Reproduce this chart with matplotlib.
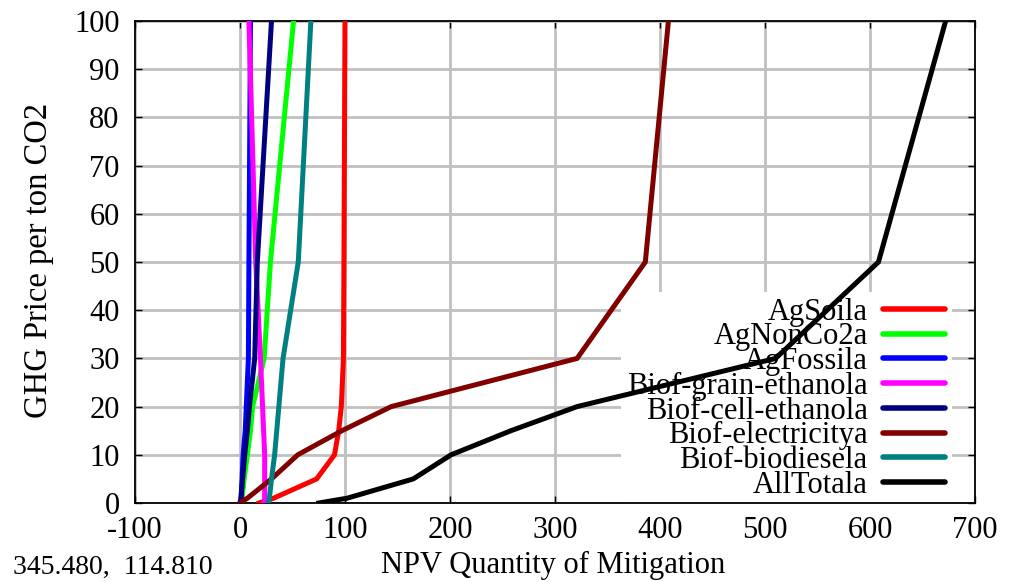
import matplotlib
matplotlib.use("Agg")
import matplotlib.pyplot as plt

# GHG price levels (y) and NPV mitigation quantity per sector (x)
prices = [0, 1, 5, 10, 15, 20, 30, 50, 100]

ag_soil = [18, 32, 73, 90, 94, 96.5, 98.5, 99, 100]
ag_nonco2 = [1, 2, 4, 7, 10, 12, 23, 29, 51]
ag_fossil = [0, 1, 2, 3, 5, 6, 8, 8.5, 10]
biof_grain = [23, 23.5, 23.5, 23.5, 22.5, 21.5, 19.5, 15, 8.5]
biof_cell = [0.5, 1, 2.5, 4.5, 7, 9, 14, 16.5, 30]
biof_elec = [0, 7, 30, 55, 97, 144, 321, 386, 408]
biof_biodiesel = [27, 28, 30, 33, 35, 37, 41, 55.5, 67.5]
all_total = [75, 102, 165, 201, 258, 321, 510, 608, 672]

series_names = ["AgSoila", "AgNonCo2a", "AgFossila", "Biof-grain-ethanola",
                "Biof-cell-ethanola", "Biof-electricitya", "Biof-biodiesela",
                "AllTotala"]
series_values = [ag_soil, ag_nonco2, ag_fossil, biof_grain, biof_cell,
                 biof_elec, biof_biodiesel, all_total]
series_colors = ["#ff0000", "#00ff00", "#0000ff", "#ff00ff", "#000080",
                 "#800000", "#008080", "#000000"]

x_ticks = [-100, 0, 100, 200, 300, 400, 500, 600, 700]
y_ticks = [0, 10, 20, 30, 40, 50, 60, 70, 80, 90, 100]

plt.rcParams['font.family'] = ['Liberation Serif', 'DejaVu Serif']
plt.rcParams['axes.unicode_minus'] = False

fig = plt.figure(figsize=(10.21, 5.82), dpi=100)
ax = fig.add_axes([0.1322, 0.1357, 0.8228, 0.8282])

for name, vals, color in zip(series_names, series_values, series_colors):
    ax.plot(vals, prices, color=color, linewidth=3.6, label=name,
            solid_joinstyle='miter', zorder=3)

ax.set_xlim(-100, 700)
ax.set_ylim(0, 100)
ax.set_xticks(x_ticks)
ax.set_yticks(y_ticks)
ax.grid(True, color='#c0c0c0', linewidth=2)
ax.set_axisbelow(True)

ax.tick_params(direction='in', length=5, width=1, top=True, right=True,
               labelsize=22)
ax.tick_params(axis='y', pad=11)
ax.tick_params(axis='x', pad=9.5)
for side in ax.spines.values():
    side.set_linewidth(1.3)

ax.set_xlabel("NPV Quantity of Mitigation", fontsize=22)
ax.xaxis.set_label_coords(0.4976, -0.1)
ax.set_ylabel("GHG Price per ton CO2", fontsize=23.5)
ax.yaxis.set_label_coords(-0.096, 0.504)

leg = ax.legend(loc='lower right', bbox_to_anchor=(0.972, -0.006),
                markerfirst=False, fontsize=22, handlelength=2.05,
                handletextpad=0.5, labelspacing=-0.14, borderpad=0.2,
                borderaxespad=0, frameon=True, fancybox=False)
leg.get_frame().set_facecolor('white')
leg.get_frame().set_edgecolor('none')
leg.get_frame().set_alpha(1)
leg.set_zorder(2)
for t in leg.get_texts():
    t.set_ha('right')
for h in leg.get_lines():
    h.set_linewidth(4)
    h.set_solid_capstyle('round')
leg._legend_box.align = "right"

fig.text(13 / 1021, 1 - 567 / 582, "345.480,  114.810", fontsize=20,
         va='center', ha='left')

fig.savefig("out.png", dpi=100)
